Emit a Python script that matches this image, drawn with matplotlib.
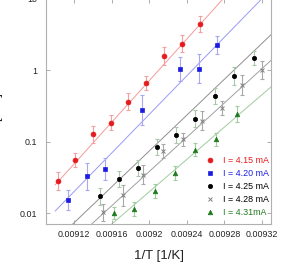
import numpy as np
import matplotlib
matplotlib.use('Agg')
import matplotlib.pyplot as plt
from matplotlib.ticker import FixedLocator, NullLocator, FuncFormatter

plt.rcParams['font.family'] = ['Liberation Sans', 'DejaVu Sans']

# data (1/T in 1/K, y on log scale)
labels = ['I = 4.15 mA', 'I = 4.20 mA', 'I = 4.25 mA', 'I = 4.28 mA', 'I = 4.31mA']

x_415 = [0.0091029, 0.0091214, 0.0091403, 0.0091589, 0.0091776, 0.0091968, 0.0092160, 0.0092352, 0.0092544]
y_415 = [0.0280, 0.0551, 0.127, 0.184, 0.360, 0.658, 1.57, 2.33, 4.44]
e_415 = [0.12, 0.10, 0.12, 0.10, 0.12, 0.10, 0.12, 0.12, 0.11]

x_420 = [0.0091136, 0.0091333, 0.0091534, 0.0091925, 0.0092323, 0.0092526, 0.0092725]
y_420 = [0.0152, 0.0327, 0.0412, 0.274, 1.04, 1.04, 2.24]
e_420 = [0.14, 0.19, 0.15, 0.21, 0.17, 0.20, 0.13]

x_425 = [0.0091472, 0.0091675, 0.0091879, 0.0092082, 0.0092285, 0.0092491, 0.0092697, 0.0092904, 0.0093113]
y_425 = [0.0172, 0.0299, 0.0423, 0.0830, 0.123, 0.209, 0.433, 0.824, 1.47]
e_425 = [0.12, 0.11, 0.11, 0.11, 0.11, 0.12, 0.11, 0.12, 0.10]

x_428 = [0.0091513, 0.0091725, 0.0091933, 0.0092142, 0.0092355, 0.0092562, 0.0092771, 0.0092989, 0.0093198]
y_428 = [0.0103, 0.0177, 0.0343, 0.0744, 0.108, 0.195, 0.294, 0.617, 1.00]
e_428 = [0.12, 0.15, 0.13, 0.10, 0.09, 0.13, 0.10, 0.14, 0.12]

x_431 = [0.0091621, 0.0091837, 0.0092057, 0.0092274, 0.0092491, 0.0092713, 0.0092936]
y_431 = [0.0100, 0.0114, 0.0204, 0.0362, 0.0768, 0.108, 0.241]
e_431 = [0.09, 0.10, 0.10, 0.10, 0.09, 0.09, 0.11]

# fitted lines, value at start and end of fit range
fit_x = [0.00910, 0.00934]
fit_lo = [0.0248, 0.01067, 0.00409, 0.00240, 0.00146]
fit_hi = [77.3, 18.56, 4.20, 1.815, 0.760]

xs = [x_415, x_420, x_425, x_428, x_431]
ys = [y_415, y_420, y_425, y_428, y_431]
es = [e_415, e_420, e_425, e_428, e_431]

colors = ['#e41a1c', '#1c1ce0', '#000000', '#808080', '#1e7a1e']
text_colors = ['#e41a1c', '#1c1ce0', '#000000', '#000000', '#1e7a1e']
err_colors = ['#f5a0a0', '#a8a8f0', '#a8c8a8', '#a8a8a8', '#a0cca0']
line_colors = ['#f59a9a', '#9a9af5', '#909090', '#a0a0a0', '#a0cca0']
markers = ['o', 's', 'o', 'x', '^']
msizes = [3.5, 2.9, 3.1, 3.0, 3.3]

fig = plt.figure(figsize=(2.95, 2.63), dpi=100)
ax = fig.add_axes([46 / 295, 39 / 263, 225 / 295, 225.5 / 263])
ax.set_yscale('log')

handles = []
for i in range(5):
    ax.plot(fit_x, [fit_lo[i], fit_hi[i]], color=line_colors[i], lw=0.7, zorder=1)
    y = np.array(ys[i])
    f = 10 ** np.array(es[i])
    yerr = [y - y / f, y * f - y]
    ax.errorbar(xs[i], y, yerr=yerr, fmt='none', ecolor=err_colors[i],
                elinewidth=0.8, capsize=1.6, capthick=0.8, zorder=2)
    h, = ax.plot(xs[i], y, ls='none', marker=markers[i], color=colors[i],
                 ms=msizes[i], mew=0.7 if markers[i] == 'x' else 0.5, zorder=3)
    handles.append(h)

ax.set_xlim(0.0090902, 0.0093296)
ax.set_ylim(0.00702, 10)

ax.xaxis.set_major_locator(FixedLocator([0.00912, 0.00916, 0.0092, 0.00924, 0.00928, 0.00932]))
ax.xaxis.set_major_formatter(FuncFormatter(lambda v, p: '%g' % v))
ax.yaxis.set_major_locator(FixedLocator([0.01, 0.1, 1, 10]))
ax.yaxis.set_major_formatter(FuncFormatter(lambda v, p: '%g' % v))
ax.yaxis.set_minor_locator(NullLocator())
ax.xaxis.set_minor_locator(NullLocator())

for s in ax.spines.values():
    s.set_color('#b0b0b0')
    s.set_linewidth(0.8)
ax.tick_params(direction='in', length=2.8, width=0.6, color='#a0a0a0',
               labelsize=6.4, labelcolor='#222222', top=True, right=True)
ax.tick_params(axis='y', pad=6.5)
ax.tick_params(axis='x', pad=4.5)

ax.set_xlabel('1/T [1/K]', fontsize=9.5, color='#222222', labelpad=8)
ax.set_ylabel('τ [sec]', fontsize=9.5, color='#222222')
ax.yaxis.set_label_coords(-0.19, 0.5)

leg = ax.legend(handles, labels, loc='center', bbox_to_anchor=(0.85, 0.165),
                frameon=False, fontsize=6.4, handlelength=1.0, handletextpad=1.0,
                labelspacing=0.45, borderpad=0)
for t, c in zip(leg.get_texts(), text_colors):
    t.set_color(c)

fig.savefig('out.png', dpi=100)
